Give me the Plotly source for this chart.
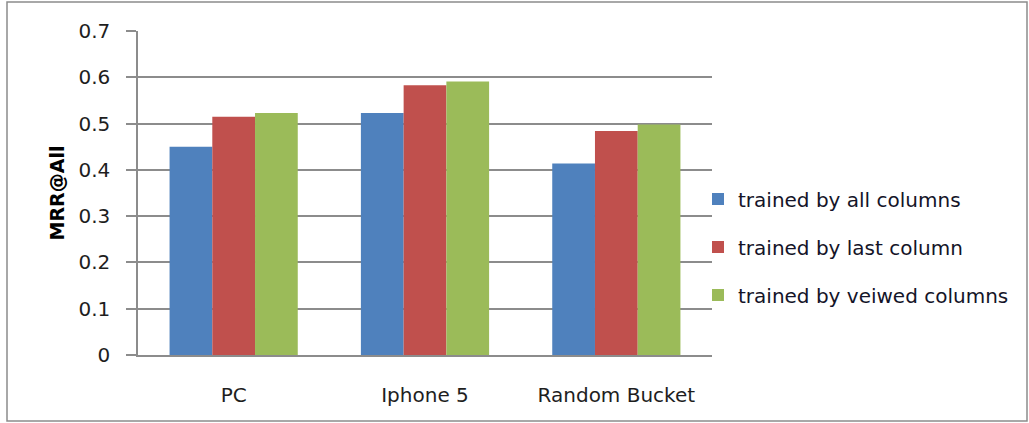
import plotly.graph_objects as go

# Categories and MRR@All scores per training setup
categories = ["PC", "Iphone 5", "Random Bucket"]
series_names = ["trained by all columns", "trained by last column", "trained by veiwed columns"]
all_columns = [0.450, 0.523, 0.414]
last_column = [0.515, 0.583, 0.484]
viewed_columns = [0.523, 0.591, 0.498]
colors = ["#4f81bd", "#c0504d", "#9bbb59"]
y_ticks = [0, 0.1, 0.2, 0.3, 0.4, 0.5, 0.6, 0.7]
y_tick_text = ["0", "0.1", "0.2", "0.3", "0.4", "0.5", "0.6", "0.7"]

W, H = 1029, 423
L, R, T, B = 138, 317, 31, 68
FONT = "DejaVu Sans"
GRID = "#8c8c8c"
TEXT = "#1e1e1e"

fig = go.Figure()
for name, vals, col in zip(series_names, [all_columns, last_column, viewed_columns], colors):
    fig.add_trace(go.Bar(
        name=name, x=categories, y=vals, marker=dict(color=col, line=dict(width=0)),
        legendgroup=name,
    ))

pw = W - L - R
ph = H - T - B


def px_x(p):
    return (p - L) / pw


def px_y(p):
    return (H - B - p) / ph


fig.update_layout(
    width=W, height=H,
    margin=dict(l=L, r=R, t=T, b=B, pad=0),
    paper_bgcolor="white", plot_bgcolor="white",
    barmode="group", bargap=0.33, bargroupgap=0,
    font=dict(family=FONT, size=20, color=TEXT),
    showlegend=True,
    legend=dict(
        x=px_x(698), xanchor="left", y=px_y(247), yanchor="middle",
        font=dict(family=FONT, size=20, color="#141428"),
        tracegroupgap=19, bgcolor="rgba(0,0,0,0)",
    ),
    xaxis=dict(
        showgrid=False, showline=True, linecolor=GRID, linewidth=1.5,
        ticks="", ticklabelstandoff=21,
        tickfont=dict(family=FONT, size=20, color=TEXT),
    ),
    yaxis=dict(
        range=[0, 0.7], tickvals=y_ticks, ticktext=y_tick_text,
        showgrid=True, gridcolor=GRID, gridwidth=1.5,
        showline=True, linecolor=GRID, linewidth=1.5,
        ticks="outside", ticklen=10, tickcolor=GRID, tickwidth=1.5,
        ticklabelstandoff=12, zeroline=False,
        tickfont=dict(family=FONT, size=20, color=TEXT),
        title=dict(text="<b>MRR@All</b>", standoff=9,
                   font=dict(family=FONT, size=19, color="#000000")),
    ),
    shapes=[dict(
        type="rect", xref="paper", yref="paper",
        x0=px_x(7), x1=px_x(1027), y0=px_y(421), y1=px_y(2),
        line=dict(color=GRID, width=1.5), fillcolor="rgba(0,0,0,0)", layer="below",
    )],
)

fig.write_html("out.html")
